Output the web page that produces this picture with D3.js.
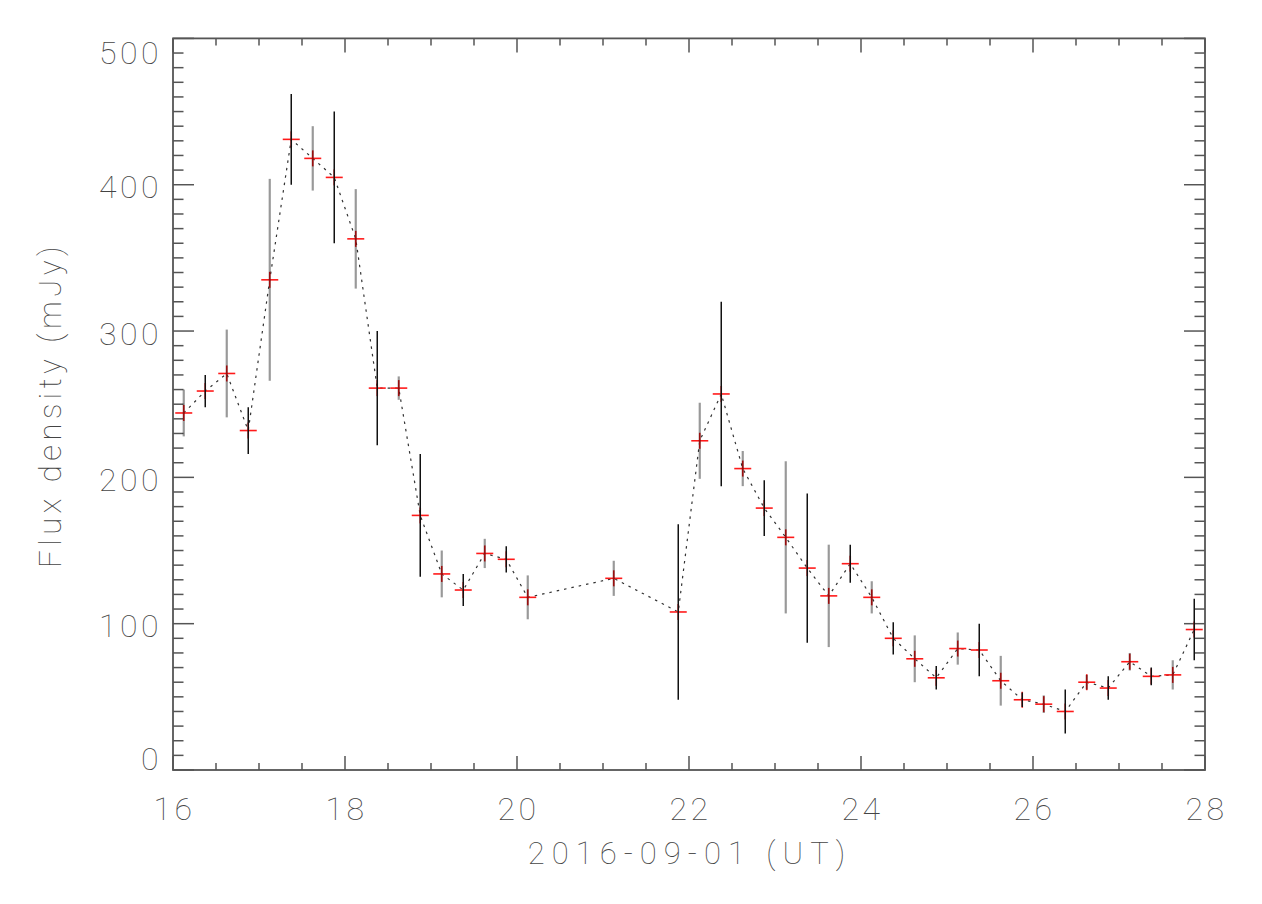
<!DOCTYPE html>
<html>
<head>
<meta charset="utf-8">
<script src="https://cdn.jsdelivr.net/npm/d3@7"></script>
<style>
  html, body { margin: 0; padding: 0; background: #fff; }
  svg { display: block; }
  .lbl { font-family: Roboto, "DejaVu Sans", sans-serif; font-weight: 100; fill: #444; }
</style>
</head>
<body>
<svg id="chart" width="1262" height="904"></svg>
<script>
// Observation times (day of 2016-09, UT)
const times = [16.125, 16.375, 16.625, 16.875, 17.125, 17.375, 17.625, 17.875, 18.125, 18.375,
  18.625, 18.875, 19.125, 19.375, 19.625, 19.875, 20.125, 21.125, 21.875, 22.125,
  22.375, 22.625, 22.875, 23.125, 23.375, 23.625, 23.875, 24.125, 24.375, 24.625,
  24.875, 25.125, 25.375, 25.625, 25.875, 26.125, 26.375, 26.625, 26.875, 27.125,
  27.375, 27.625, 27.875];
// Flux density (mJy)
const flux = [244, 259, 271, 232, 335, 431, 418, 405, 363, 261,
  261, 174, 134, 123, 148, 144, 118, 131, 108, 225,
  257, 206, 179, 159, 138, 119, 141, 118, 90, 76,
  63, 83, 82, 61, 48, 45, 40, 60, 56, 74,
  64, 65, 96];
// 1-sigma errors (mJy)
const fluxErr = [16, 11, 30, 16, 69, 31, 22, 45, 34, 39,
  8, 42, 16, 11, 10, 9, 15, 12, 60, 26,
  63, 12, 19, 52, 51, 35, 13, 11, 11, 16,
  8, 11, 18, 17, 5, 6, 15, 5, 8, 6,
  6, 10, 21];
const xTicks = [16, 18, 20, 22, 24, 26, 28];
const yTicks = [0, 100, 200, 300, 400, 500];
const xTitle = "2016-09-01 (UT)";
const yTitle = "Flux density (mJy)";

const L = 173, R = 1205, T = 38.4, B = 770;
const x = d3.scaleLinear().domain([16, 28]).range([L, R]);
const y = d3.scaleLinear().domain([0, 500]).range([B, T]);
const svg = d3.select("#chart");
svg.append("rect").attr("width", 1262).attr("height", 904).attr("fill", "#fff");

const axisColor = "#555";
// Ticks
const g = svg.append("g").attr("stroke", axisColor).attr("stroke-width", 1.5);
const xMinor = d3.range(16, 28.001, 0.5);
xMinor.forEach(v => {
  const major = Math.abs(v / 2 - Math.round(v / 2)) < 1e-6;
  const len = major ? 14 : 7;
  g.append("line").attr("x1", x(v)).attr("x2", x(v)).attr("y1", B).attr("y2", B - len);
  g.append("line").attr("x1", x(v)).attr("x2", x(v)).attr("y1", T).attr("y2", T + len);
});
const yMinor = d3.range(0, 500.001, 10);
yMinor.forEach(v => {
  const major = v % 100 === 0;
  const len = major ? 21 : 10.5;
  g.append("line").attr("x1", L).attr("x2", L + len).attr("y1", y(v)).attr("y2", y(v));
  g.append("line").attr("x1", R).attr("x2", R - len).attr("y1", y(v)).attr("y2", y(v));
});
// Frame
svg.append("rect").attr("x", L).attr("y", T).attr("width", R - L).attr("height", B - T)
  .attr("fill", "none").attr("stroke", axisColor).attr("stroke-width", 1.8);

// Tick labels
svg.append("g").selectAll("text").data(xTicks).join("text")
  .attr("class", "lbl").attr("x", d => x(d) + 1.5).attr("y", 820)
  .attr("text-anchor", "middle").attr("font-size", 32).attr("letter-spacing", 3.5)
  .text(d => d);
svg.append("g").selectAll("text").data(yTicks).join("text")
  .attr("class", "lbl").attr("x", 162)
  .attr("y", d => Math.min(Math.max(y(d) + 2, 52), 758) + 11.5)
  .attr("text-anchor", "end").attr("font-size", 32).attr("letter-spacing", 3.5)
  .text(d => d);

// Axis titles
svg.append("text").attr("class", "lbl").attr("x", 690).attr("y", 864)
  .attr("text-anchor", "middle").attr("font-size", 31).attr("letter-spacing", 7)
  .text(xTitle);
svg.append("text").attr("class", "lbl")
  .attr("transform", "translate(61,405) rotate(-90)")
  .attr("text-anchor", "middle").attr("font-size", 31).attr("letter-spacing", 4.5)
  .text(yTitle);

// Data
const pts = times.map((t, i) => ({ t, f: flux[i], e: fluxErr[i], k: Math.round((t - 16.125) / 0.25) }));

// Dotted connecting line
svg.append("path").datum(pts)
  .attr("d", d3.line().x(d => x(d.t)).y(d => y(d.f)))
  .attr("fill", "none").attr("stroke", "#333").attr("stroke-width", 1.2)
  .attr("stroke-dasharray", "2.5,5");

// Red plus symbols
const sym = svg.append("g").attr("stroke", "#ff1a1a").attr("stroke-width", 1.6);
pts.forEach(d => {
  sym.append("line").attr("x1", x(d.t) - 8.5).attr("x2", x(d.t) + 8.5).attr("y1", y(d.f)).attr("y2", y(d.f));
  sym.append("line").attr("x1", x(d.t)).attr("x2", x(d.t)).attr("y1", y(d.f) - 8).attr("y2", y(d.f) + 8);
});

// Error bars (alternating black / grey)
svg.append("g").selectAll("line").data(pts).join("line")
  .attr("x1", d => x(d.t)).attr("x2", d => x(d.t))
  .attr("y1", d => y(d.f + d.e)).attr("y2", d => y(d.f - d.e))
  .attr("stroke", d => d.k % 2 ? "#111" : "rgba(0,0,0,0.4)")
  .attr("stroke-width", d => d.k % 2 ? 1.5 : 2.2);
</script>
</body>
</html>
